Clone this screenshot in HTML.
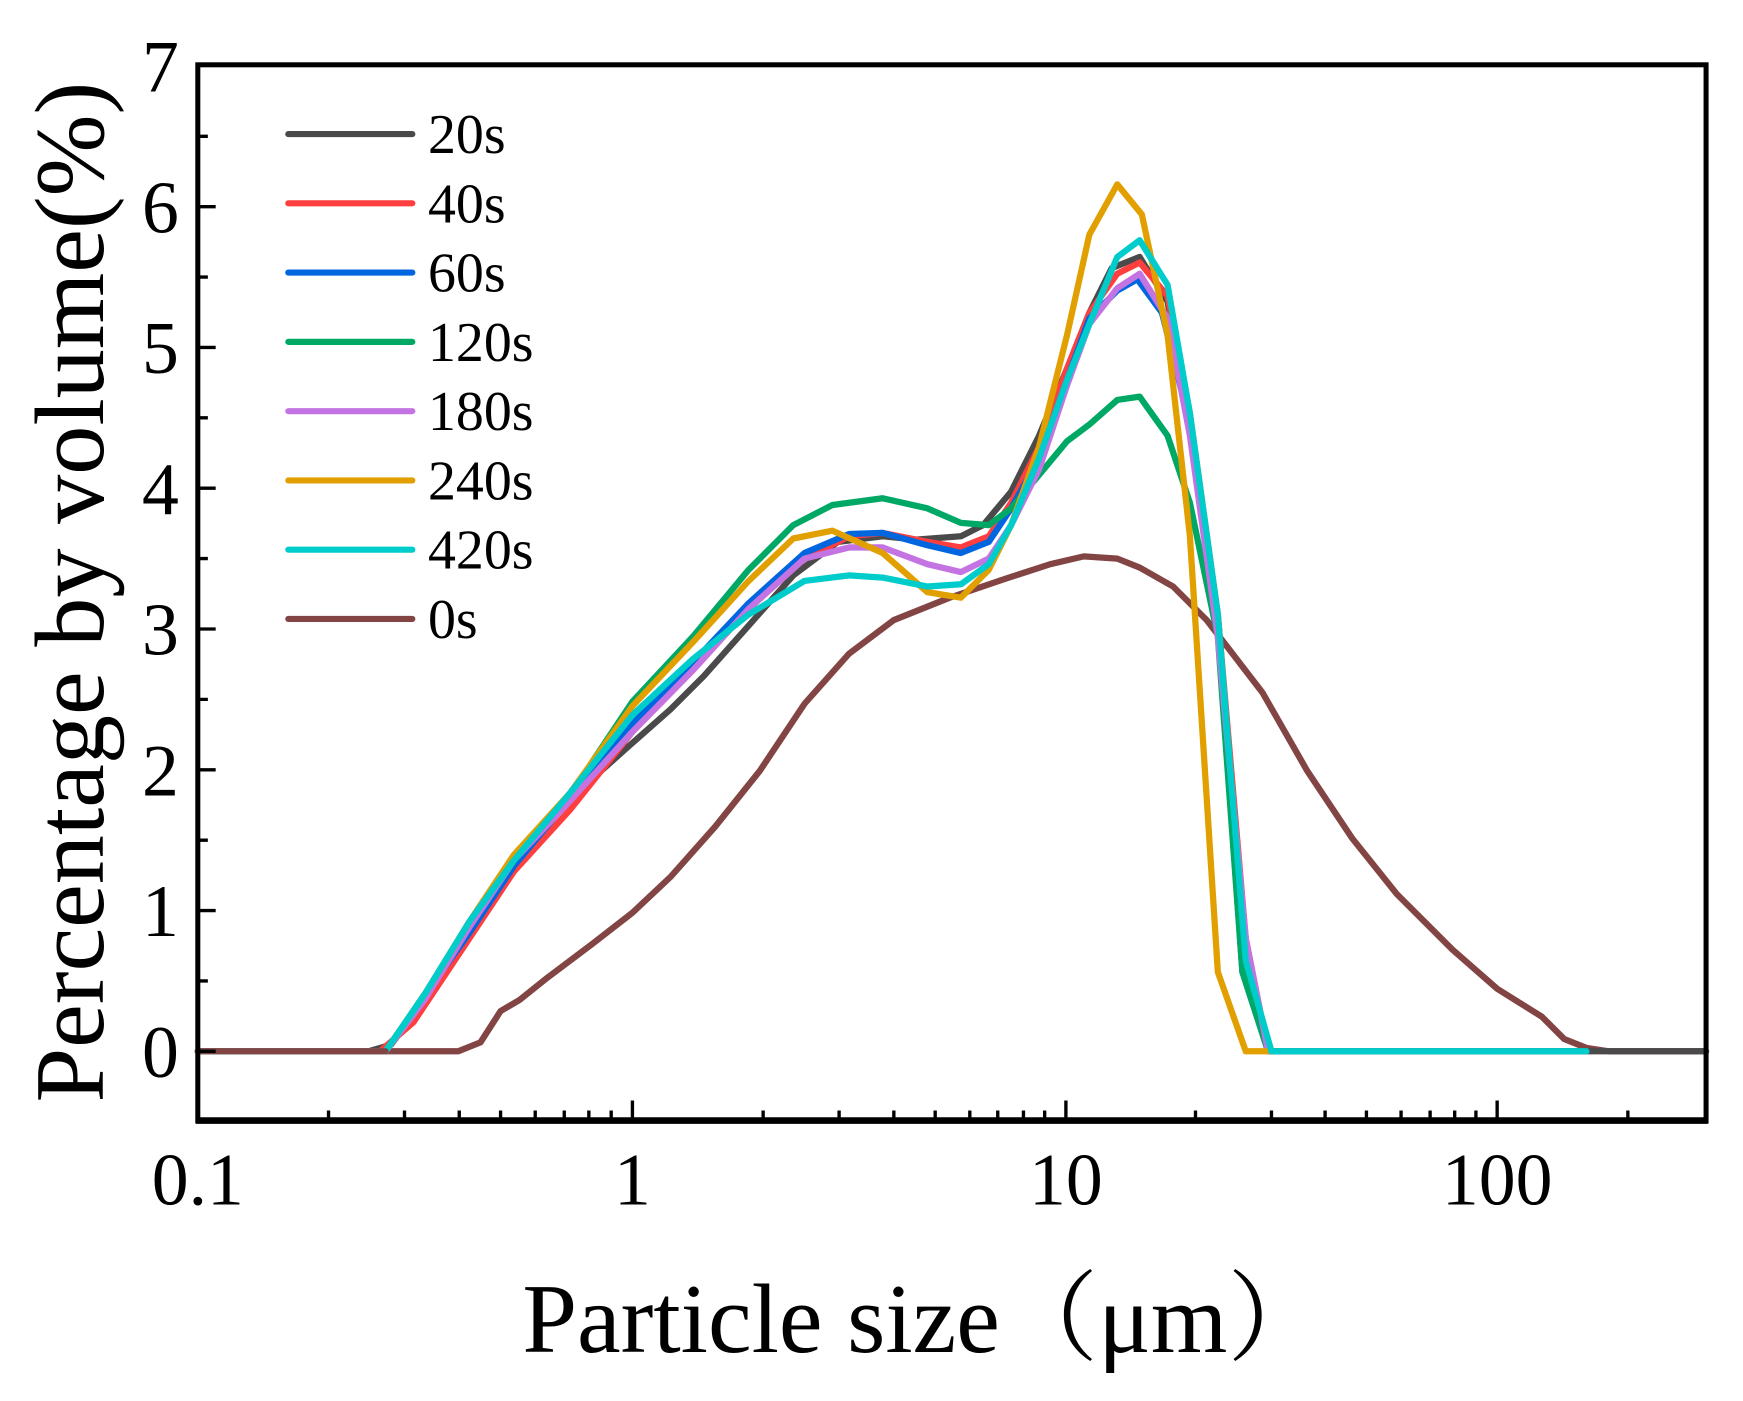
<!DOCTYPE html>
<html><head><meta charset="utf-8"><style>
html,body{margin:0;padding:0;background:#fff;}
svg{display:block;}
text{font-family:"Liberation Serif","Noto Serif CJK SC",serif;fill:#000;}
</style></head><body>
<svg width="1743" height="1401" viewBox="0 0 1560 1254" xmlns="http://www.w3.org/2000/svg">
<g fill="none" stroke-width="5.6" stroke-linejoin="round" stroke-linecap="round">
<polyline stroke="#834444" points="177,941 410,941 430,933 448,905 465,895 490,875 530,845 566,817 600,785 640,740 680,690 720,630 760,585 800,555 850,535 900,518 940,505 970,498 1000,500 1020,508 1050,525 1080,555 1130,620 1170,690 1210,750 1250,800 1300,850 1340,885 1380,910 1400,930 1420,938 1440,941 1527,941"/>
<polyline stroke="#4a4a4a" points="177,941 330,941 350,935 380,895 420,835 460,775 510,715 566,665 600,635 630,605 670,560 710,515 750,485 790,480 820,483 860,480 880,470 905,440 930,390 955,330 975,280 995,240 1020,230 1045,270 1065,380 1090,550 1115,860 1135,941 1527,941"/>
<polyline stroke="#ff3f3f" points="177,941 340,941 370,915 420,840 460,780 510,725 566,655 620,600 670,545 720,500 760,480 790,477 830,485 860,490 885,480 905,450 930,400 955,330 975,280 1000,245 1020,235 1045,265 1065,370 1090,550 1115,840 1135,941"/>
<polyline stroke="#0066e0" points="177,941 345,941 370,905 420,835 460,775 510,715 566,648 620,593 670,540 720,495 760,478 790,477 830,488 860,495 885,485 905,455 930,410 955,340 975,285 1000,260 1018,250 1040,280 1065,380 1090,560 1112,870 1135,941"/>
<polyline stroke="#00a865" points="177,941 345,941 380,890 420,830 460,770 510,712 566,628 620,570 670,510 710,470 745,452 790,446 830,455 860,468 885,470 905,455 930,425 955,395 975,380 1000,358 1020,355 1045,390 1065,450 1090,570 1112,870 1135,941"/>
<polyline stroke="#c474e2" points="177,941 345,941 380,895 420,830 460,770 510,717 566,655 620,600 670,545 720,500 760,490 790,490 830,505 860,512 885,500 905,470 930,420 955,345 975,290 1000,258 1020,245 1045,285 1065,390 1090,570 1115,840 1135,941"/>
<polyline stroke="#e2a000" points="177,941 345,941 380,890 420,825 460,765 510,710 566,632 620,575 670,520 710,482 745,475 790,495 830,530 860,535 885,510 905,470 930,400 955,300 975,210 1000,165 1022,192 1045,300 1065,480 1090,870 1115,941 1135,941"/>
<polyline stroke="#00cccc" points="177,941 345,941 380,890 420,825 460,770 510,710 566,640 620,590 670,550 720,520 760,515 790,517 830,525 860,523 885,505 905,470 930,410 955,340 975,290 1000,230 1020,215 1045,255 1065,370 1090,550 1115,860 1138,941 1420,941"/>
<polyline stroke="#834444" points="177,941 345,941"/>
</g>
<rect x="177" y="58" width="1350" height="945" fill="none" stroke="#000" stroke-width="4.5"/>
<line x1="175" y1="1003" x2="1529" y2="1003" stroke="#000" stroke-width="6"/>
<g stroke="#000" stroke-width="3">
<path d="M177,1003v-18M566,1003v-18M954,1003v-18M1340,1003v-18"/>
<path d="M294,1003v-9M362,1003v-9M411,1003v-9M448,1003v-9M479,1003v-9M505,1003v-9M527,1003v-9M547,1003v-9
M683,1003v-9M751,1003v-9M800,1003v-9M837,1003v-9M868,1003v-9M893,1003v-9M916,1003v-9M935,1003v-9
M1070,1003v-9M1138,1003v-9M1186,1003v-9M1223,1003v-9M1254,1003v-9M1280,1003v-9M1302,1003v-9M1321,1003v-9M1457,1003v-9"/>
<path d="M177,941h16M177,815h16M177,689h16M177,563h16M177,437h16M177,311h16M177,185h16"/>
<path d="M177,878h9M177,752h9M177,626h9M177,500h9M177,374h9M177,248h9M177,122h9"/>
</g>
<g font-size="66" text-anchor="end">
<text x="160" y="964">0</text><text x="160" y="838">1</text><text x="160" y="712">2</text><text x="160" y="586">3</text><text x="160" y="460">4</text><text x="160" y="334">5</text><text x="160" y="208">6</text><text x="160" y="82">7</text>
</g>
<g font-size="66" text-anchor="middle">
<text x="177" y="1078">0.1</text><text x="566" y="1078">1</text><text x="954" y="1078">10</text><text x="1340" y="1078">100</text>
</g>
<text x="827" y="1210" font-size="88" text-anchor="middle">Particle size（μm）</text>
<text transform="translate(92,530) rotate(-90)" font-size="88" text-anchor="middle">Percentage by volume(%)</text>
<g stroke-width="5.5" stroke-linecap="round">
<line x1="258" y1="120" x2="369" y2="120" stroke="#4a4a4a"/>
<line x1="258" y1="182" x2="369" y2="182" stroke="#ff3f3f"/>
<line x1="258" y1="244" x2="369" y2="244" stroke="#0066e0"/>
<line x1="258" y1="306" x2="369" y2="306" stroke="#00a865"/>
<line x1="258" y1="368" x2="369" y2="368" stroke="#c474e2"/>
<line x1="258" y1="430" x2="369" y2="430" stroke="#e2a000"/>
<line x1="258" y1="492" x2="369" y2="492" stroke="#00cccc"/>
<line x1="258" y1="554" x2="369" y2="554" stroke="#834444"/>
</g>
<g font-size="50">
<text x="383" y="137">20s</text><text x="383" y="199">40s</text><text x="383" y="261">60s</text><text x="383" y="323">120s</text>
<text x="383" y="385">180s</text><text x="383" y="447">240s</text><text x="383" y="509">420s</text><text x="383" y="571">0s</text>
</g>
</svg>
</body></html>
